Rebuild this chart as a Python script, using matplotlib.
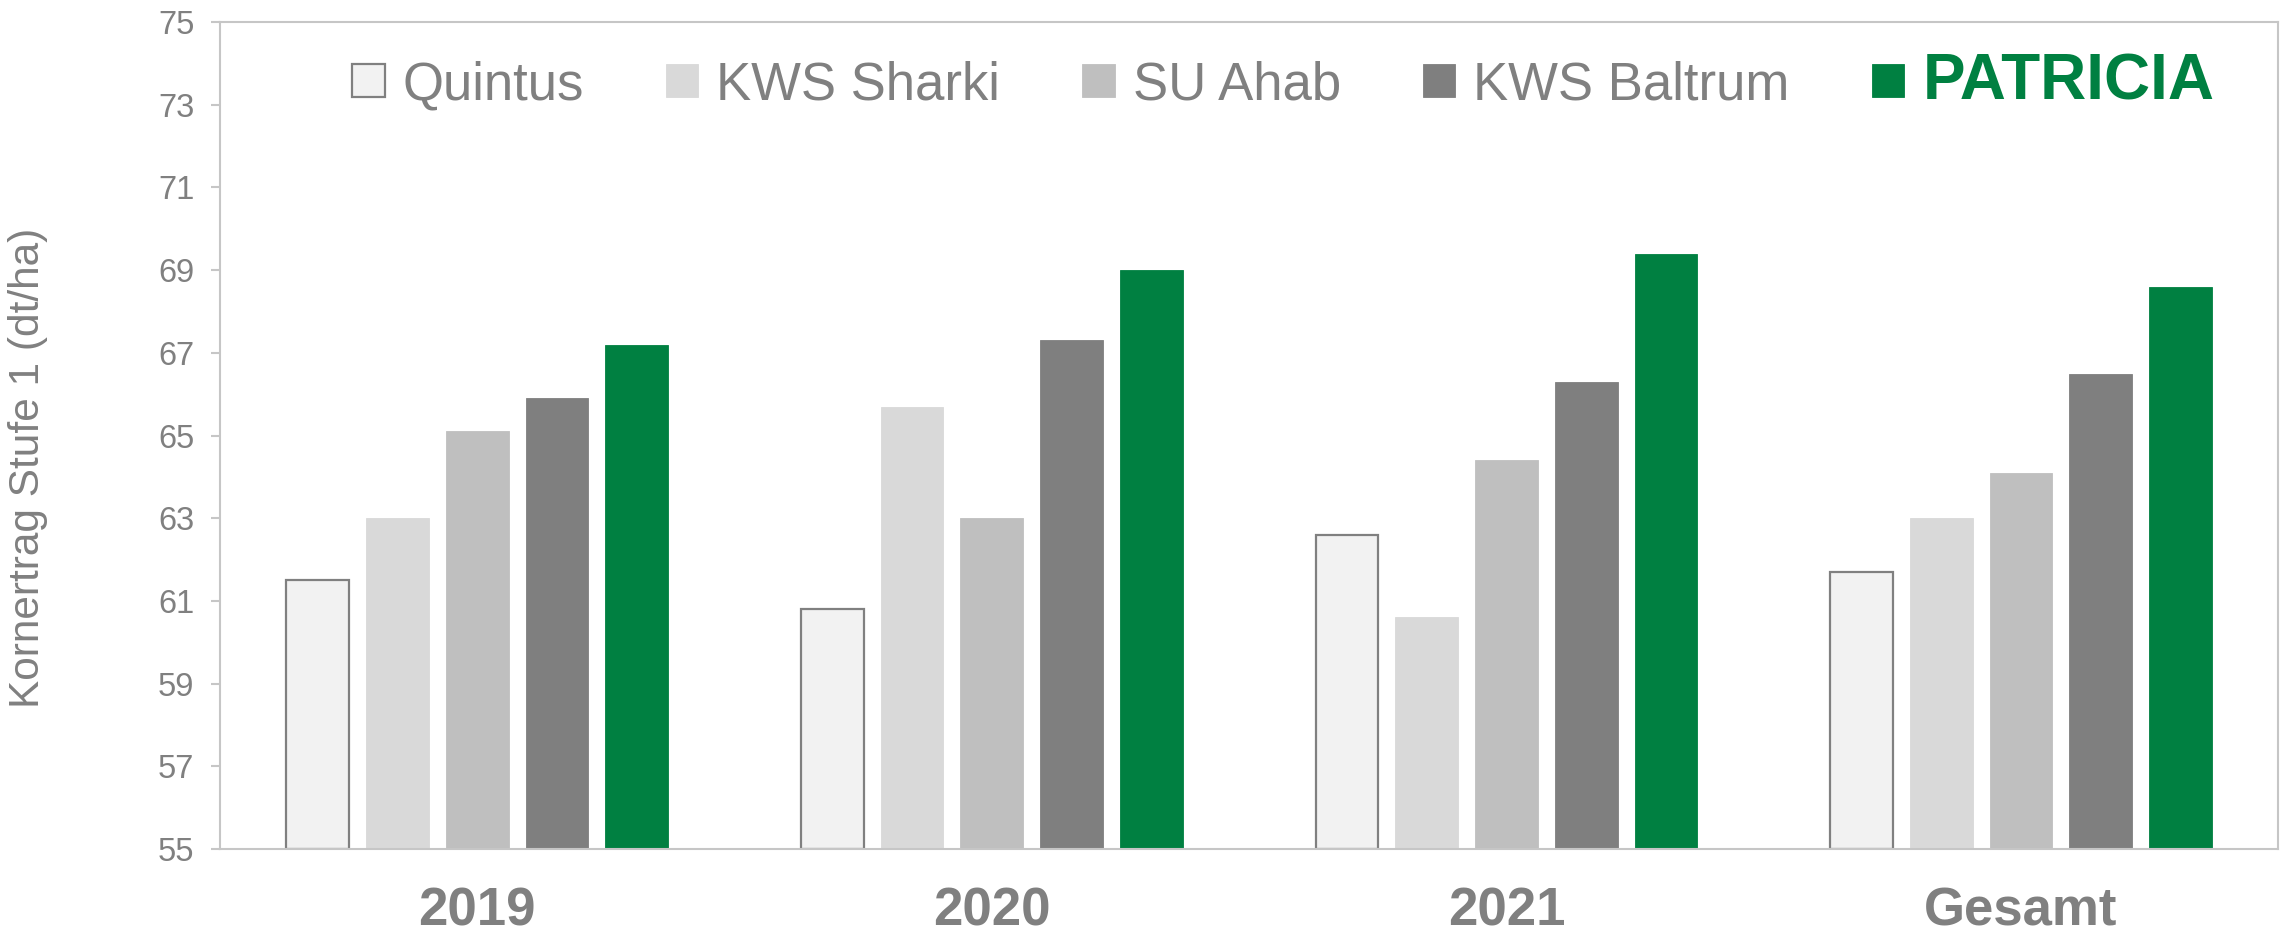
import numpy as np
import matplotlib
matplotlib.use("Agg")
from matplotlib import pyplot as plt

# data
groups = ["2019", "2020", "2021", "Gesamt"]
sorten = ["Quintus", "KWS Sharki", "SU Ahab", "KWS Baltrum", "PATRICIA"]
quintus = [61.5, 60.8, 62.6, 61.7]
sharki = [63.0, 65.7, 60.6, 63.0]
ahab = [65.1, 63.0, 64.4, 64.1]
baltrum = [65.9, 67.3, 66.3, 66.5]
patricia = [67.2, 69.0, 69.4, 68.6]
yticks = list(range(55, 76, 2))

series = [quintus, sharki, ahab, baltrum, patricia]
fills = ["#F2F2F2", "#D9D9D9", "#BFBFBF", "#7F7F7F", "#008041"]
edges = ["#808080", "#D9D9D9", "#BFBFBF", "#7F7F7F", "#008041"]
grey = "#808080"
spine = "#C6C6C6"

plt.rcParams["font.family"] = ["Liberation Sans", "DejaVu Sans"]

fig = plt.figure(figsize=(22.92, 9.34), dpi=100)
ax = fig.add_axes([0.096, 0.091, 0.898, 0.8854])

x = np.arange(len(groups))
step = 0.155
width = 0.122
bars = []
for i, vals in enumerate(series):
    b = ax.bar(x + (i - 2) * step, np.array(vals) - 55, width, bottom=55,
               color=fills[i], edgecolor=edges[i],
               linewidth=1.6 if i == 0 else 0.6, label=sorten[i], zorder=2)
    bars.append(b)

ax.set_xlim(-0.5, len(groups) - 0.5)
ax.set_ylim(55, 75)
ax.set_yticks(yticks)
ax.set_xticks(x)
ax.set_xticklabels(groups, fontsize=38, fontweight="bold", color=grey)
ax.tick_params(axis="x", length=0, pad=27)
ax.tick_params(axis="y", length=6.5, width=1.5, color=spine, pad=12,
               labelsize=23.5, labelcolor=grey)
for s in ax.spines.values():
    s.set_color(spine)
    s.set_linewidth(1.5)

ax.set_ylabel("Kornertrag Stufe 1 (dt/ha)", fontsize=30.5, color=grey)
ax.yaxis.set_label_coords(-0.0835, 0.461)

leg = fig.legend(handles=bars, labels=sorten, loc="center",
                 bbox_to_anchor=(0.5598, 0.912), ncol=5, frameon=False,
                 fontsize=38, handlelength=0.62, handleheight=0.6,
                 handletextpad=0.34, columnspacing=1.55, borderpad=0)
for t in leg.get_texts():
    t.set_color(grey)
pt = leg.get_texts()[4]
pt.set_color("#008041")
pt.set_fontweight("bold")
pt.set_fontsize(46)

fig.savefig("out.png", dpi=100)
